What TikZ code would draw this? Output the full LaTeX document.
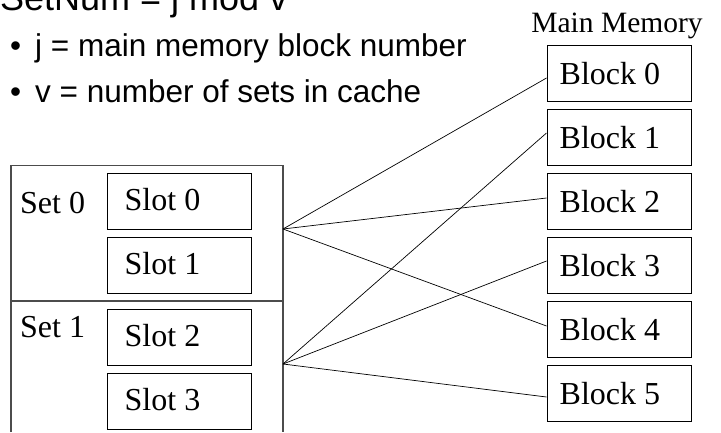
\documentclass[tikz,border=0pt]{standalone}
\usepackage{fontspec}
\setmainfont{Liberation Serif}
\newfontfamily\arialfont{Liberation Sans}
\begin{document}
\begin{tikzpicture}[x=1pt,y=-1pt,
  box/.style={draw=black,line width=1pt,minimum width=144pt,minimum height=56pt,inner sep=0pt},
  label/.style={anchor=base west,inner sep=0pt,font=\fontsize{32}{36}\selectfont},
  link/.style={draw=black,line width=0.7pt},
  frame/.style={draw=black!70,line width=1.2pt},
  bullettext/.style={anchor=base west,inner sep=0pt,font=\arialfont\fontsize{31.5}{38}\selectfont}]
\useasboundingbox (0,0) rectangle (721,432);

% heading and bullet points
\node[anchor=base west,inner sep=0pt,font=\arialfont\fontsize{36}{40}\selectfont] (title) at (0,10) {SetNum = j mod v};
\node[bullettext] (b1dot) at (10,56) {\textbullet};
\node[bullettext] (b1text) at (35,56) {j = main memory block number};
\node[bullettext] (b2dot) at (10,102) {\textbullet};
\node[bullettext] (b2text) at (35,102) {v = number of sets in cache};

% cache with its two sets
\draw[frame] (11,432) -- (11,165.5) -- (283,165.5) -- (283,432);
\draw[frame] (11,301) -- (283,301);
\node[label] (set0) at (20,213) {Set 0};
\node[label] (set1) at (20,337) {Set 1};
\coordinate (s0) at (283,229);
\coordinate (s1) at (283,364);

% cache slots
\foreach \i/\y in {0/201,1/265,2/337,3/401}{
  \node[box] (slot\i) at (179,\y) {};
  \node[label] at ([xshift=18pt,yshift=-9pt]slot\i.west) {Slot \i};
}

% main memory blocks
\node[anchor=base,inner sep=0pt,font=\fontsize{29.5}{34}\selectfont] (mm) at (617,32) {Main Memory};
\foreach \i in {0,...,5}{
  \node[box] (blk\i) at (619,73+64*\i) {};
  \node[label] at ([xshift=13pt,yshift=-11pt]blk\i.west) {Block \i};
}

% set-to-block mapping
\draw[link] (s0) -- ([yshift=-5pt]blk0.west);
\draw[link] (s0) -- ([yshift=3pt]blk2.west);
\draw[link] (s0) -- ([yshift=3pt]blk4.west);
\draw[link] (s1) -- ([yshift=4pt]blk1.west);
\draw[link] (s1) -- ([yshift=4pt]blk3.west);
\draw[link] (s1) -- ([yshift=-4pt]blk5.west);
\end{tikzpicture}
\end{document}
